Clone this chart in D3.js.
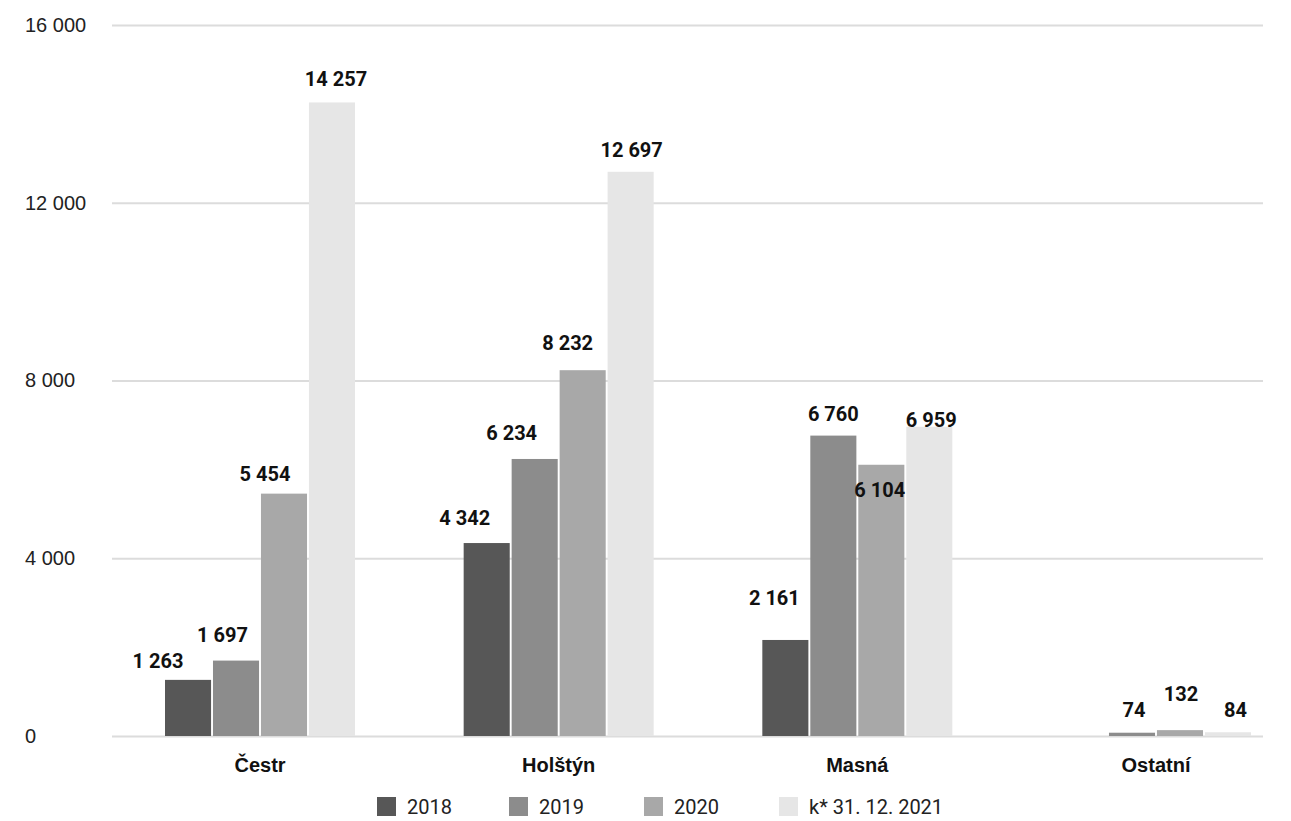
<!DOCTYPE html>
<html>
<head>
<meta charset="utf-8">
<script src="https://cdn.jsdelivr.net/npm/d3@7/dist/d3.min.js"></script>
<style>
  html, body { margin: 0; padding: 0; background: #fff; }
  svg { display: block; font-family: Roboto, "Noto Sans", sans-serif; }
</style>
</head>
<body>
<svg id="chart" width="1291" height="821"></svg>
<script>
// ---- data ----
const categories = ["Čestr", "Holštýn", "Masná", "Ostatní"];
const seriesNames = ["2018", "2019", "2020", "k* 31. 12. 2021"];
const values2018 = [1263, 4342, 2161, null];
const values2019 = [1697, 6234, 6760, 74];
const values2020 = [5454, 8232, 6104, 132];
const values2021 = [14257, 12697, 6959, 84];
const yTicks = [0, 4000, 8000, 12000, 16000];
const seriesColors = ["#575757", "#8c8c8c", "#a8a8a8", "#e6e6e6"];

const seriesValues = [values2018, values2019, values2020, values2021];

// label placement nudges (collision avoidance as in the original): [dx, gap above bar top]
const labelNudge = [
  [[-30, 12], [-13.5, 19], [-19, 13], [4, 16]],
  [[-22, 18], [-23, 19], [-15, 20], [1, 15]],
  [[-11, 35], [0, 15], [-1.5, -32], [2, 0]],
  [[0, 16], [2, 16], [1, 29], [7.5, 15]]
];

const locale = d3.formatLocale({decimal: ",", thousands: " ", grouping: [3], currency: ["", ""]});
const fmt = locale.format(",d");

const svg = d3.select("#chart");

const y = d3.scaleLinear().domain([0, 16000]).range([736, 25]);
const x0 = d3.scaleBand().domain(categories).range([165, 1251]).paddingInner(0.3638).paddingOuter(0);
const x1 = d3.scaleBand().domain(d3.range(seriesNames.length)).range([0, x0.bandwidth()]).paddingInner(0.04);

const gridLeft = 112, gridRight = 1263;

// gridlines + tick labels
const yAxis = d3.axisLeft(y).tickValues(yTicks).tickSize(-(gridRight - gridLeft)).tickFormat(fmt);
const gAxis = svg.append("g").attr("transform", `translate(${gridLeft},0)`).call(yAxis);
gAxis.select(".domain").remove();
gAxis.selectAll(".tick line").attr("stroke", "#dcdcdc").attr("stroke-width", 2);
gAxis.selectAll(".tick text")
  .attr("x", 25 - gridLeft)
  .attr("text-anchor", "start")
  .attr("fill", "#222")
  .style("font-size", "20px");

// bars
const groups = svg.append("g").selectAll("g")
  .data(categories)
  .join("g")
  .attr("transform", d => `translate(${x0(d)},0)`);

groups.selectAll("rect")
  .data((c, ci) => seriesValues.map((arr, si) => ({si, ci, v: arr[ci]})).filter(d => d.v != null))
  .join("rect")
  .attr("x", d => x1(d.si))
  .attr("width", x1.bandwidth())
  .attr("y", d => y(d.v))
  .attr("height", d => y(0) - y(d.v))
  .attr("fill", d => seriesColors[d.si]);

// value labels
groups.selectAll("text.val")
  .data((c, ci) => seriesValues.map((arr, si) => ({si, ci, v: arr[ci]})).filter(d => d.v != null))
  .join("text")
  .attr("class", "val")
  .attr("x", d => x1(d.si) + x1.bandwidth() / 2 + labelNudge[d.ci][d.si][0])
  .attr("y", d => y(d.v) - labelNudge[d.ci][d.si][1])
  .attr("text-anchor", "middle")
  .attr("font-weight", "bold")
  .attr("fill", "#111")
  .style("font-size", "20px")
  .text(d => fmt(d.v));

// category labels
const xAxis = d3.axisBottom(x0).tickSize(0).tickPadding(0);
const gx = svg.append("g").attr("transform", "translate(0,752)").call(xAxis);
gx.select(".domain").remove();
gx.selectAll(".tick text")
  .attr("dy", "1em")
  .attr("font-weight", "bold")
  .attr("fill", "#111")
  .style("font-size", "20px");

// legend
const legendX = [377, 509, 644, 779];
const legend = svg.append("g").selectAll("g")
  .data(seriesNames)
  .join("g")
  .attr("transform", (d, i) => `translate(${legendX[i]},797)`);
legend.append("rect").attr("width", 19).attr("height", 19).attr("fill", (d, i) => seriesColors[i]);
legend.append("text")
  .attr("x", 30).attr("y", 17)
  .attr("fill", "#222")
  .style("font-size", "20px")
  .text(d => d);
</script>
</body>
</html>
